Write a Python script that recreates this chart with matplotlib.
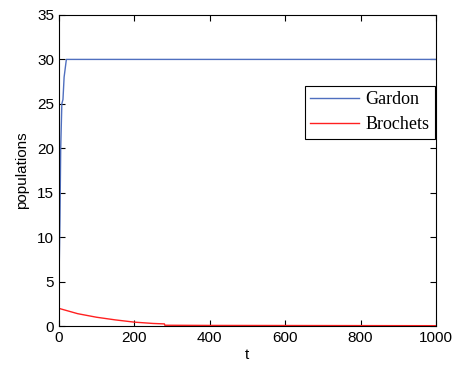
import matplotlib.pyplot as plt

# values
t_gardon = [0, 1, 3, 5, 8, 11, 14, 17, 20, 25, 40, 1000]
gardon = [3, 6.5, 12, 20, 25, 25.5, 28, 29, 30, 30, 30, 30]

t_brochets = [0, 25, 50, 100, 150, 200, 250, 280, 281, 400, 1000]
brochets = [2.0, 1.7, 1.4, 1.0, 0.7, 0.45, 0.3, 0.25, 0.1, 0.08, 0.05]

fig = plt.figure(figsize=(4.56, 3.74), dpi=100)
ax = fig.add_axes([0.129, 0.128, 0.827, 0.832])

ax.plot(t_gardon, gardon, color='#4f6fbf', lw=1.0, label='Gardon')
ax.plot(t_brochets, brochets, color='#ff2020', lw=1.0, label='Brochets')

ax.set_xlim(0, 1000)
ax.set_ylim(0, 35)
ax.set_xticks([0, 200, 400, 600, 800, 1000])
ax.set_yticks([0, 5, 10, 15, 20, 25, 30, 35])
ax.tick_params(direction='in', top=True, right=True, length=4,
               labelsize=11, labelfontfamily='Liberation Sans')
for s in ax.spines.values():
    s.set_linewidth(0.8)
ax.set_xlabel('t', fontsize=11, family='Liberation Sans', labelpad=2)
ax.set_ylabel('populations', fontsize=11, family='Liberation Sans', labelpad=6)

leg = ax.legend(loc='upper right', bbox_to_anchor=(0.997, 0.772),
                prop={'family': 'Liberation Serif', 'size': 13},
                fancybox=False, edgecolor='black', framealpha=1,
                handlelength=2.7, borderpad=0.3, labelspacing=0.45,
                handletextpad=0.35, borderaxespad=0)
leg.get_frame().set_linewidth(0.8)

plt.savefig('out.png', dpi=100)
